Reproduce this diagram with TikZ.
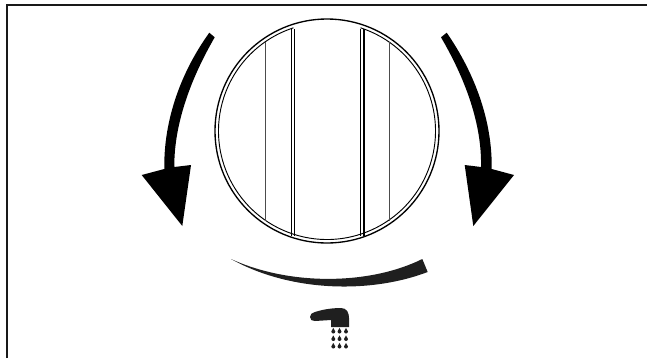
\documentclass[tikz,border=0pt]{standalone}
\usepackage{tikz}
\tikzset{
    frameline/.style={draw=black!90, line width=1.5pt},
    ringline/.style={draw=black, line width=1pt},
    innerline/.style={draw=black, line width=0.7pt},
    ribline/.style={draw=black!70, line width=0.7pt},
    solidshape/.style={fill=black, draw=none},
    darkshape/.style={fill=black!88, draw=none}
}
\newcommand{\showerdrop}[2]{\fill[black!88] (#1-2,#2) arc[start angle=180, end angle=0, radius=2] -- (#1,#2-3.6) -- cycle;}
\begin{document}
\begin{tikzpicture}[x=0.75pt, y=-0.75pt]
    \useasboundingbox (0,0) rectangle (647,358);
    % Outer frame, open at the bottom and right
    \draw[frameline] (7,358) -- (7,5) -- (647,5);

    % Knob rings
    \draw[ringline] (327,131) circle[radius=112];
    \draw[innerline] (327,131) ++(288:108.5) arc[start angle=288, end angle=612, radius=108.5];

    % Knob ribs
    \draw[ribline] (265.7,42) -- (265.7,221);
    \draw[ribline] (389,42) -- (389,221);
    \draw[ringline] (291.5,29) -- (291.5,236);
    \draw[ringline] (294.6,29) -- (294.6,236);
    \draw[ringline] (360.5,29) -- (360.5,236);
    \draw[ringline] (364,29) -- (364,236);

    % Left arrow
    \fill[solidshape] (209.3,32.7) .. controls (181,72) and (163.5,120) .. (164.3,169) -- (141.7,175) -- (182.3,226) -- (191,165) -- (174.3,167)
        .. controls (174,125) and (190,80) .. (214.7,37.3) -- cycle;

    % Right arrow
    \fill[solidshape] (446.7,32.7) .. controls (474,72) and (492.5,120) .. (491.7,169) -- (514,175) -- (473.3,226) -- (464.7,165) -- (481,167)
        .. controls (482,125) and (466,80) .. (441,37.3) -- cycle;

    % Temperature wedge
    \fill[darkshape] (231,259) .. controls (290,286) and (370,285) .. (422.3,259) -- (427.7,272)
        .. controls (370,294) and (290,292) .. (231,259) -- cycle;

    % Shower head
    \fill[darkshape] (310,317) .. controls (310,314) and (312,313) .. (315,312) .. controls (324,309) and (334,308) .. (341,308)
        .. controls (347,308) and (349,313) .. (349,318) -- (349,327) -- (331,327) -- (331,320) -- (315,321) .. controls (312,321) and (310,320) .. (310,317) -- cycle;

    % Water drops
    \foreach \dropx in {333.3,339.5,346} {
        \foreach \dropy in {331.5,339,346.5} {
            \showerdrop{\dropx}{\dropy}
        }
    }
\end{tikzpicture}
\end{document}
